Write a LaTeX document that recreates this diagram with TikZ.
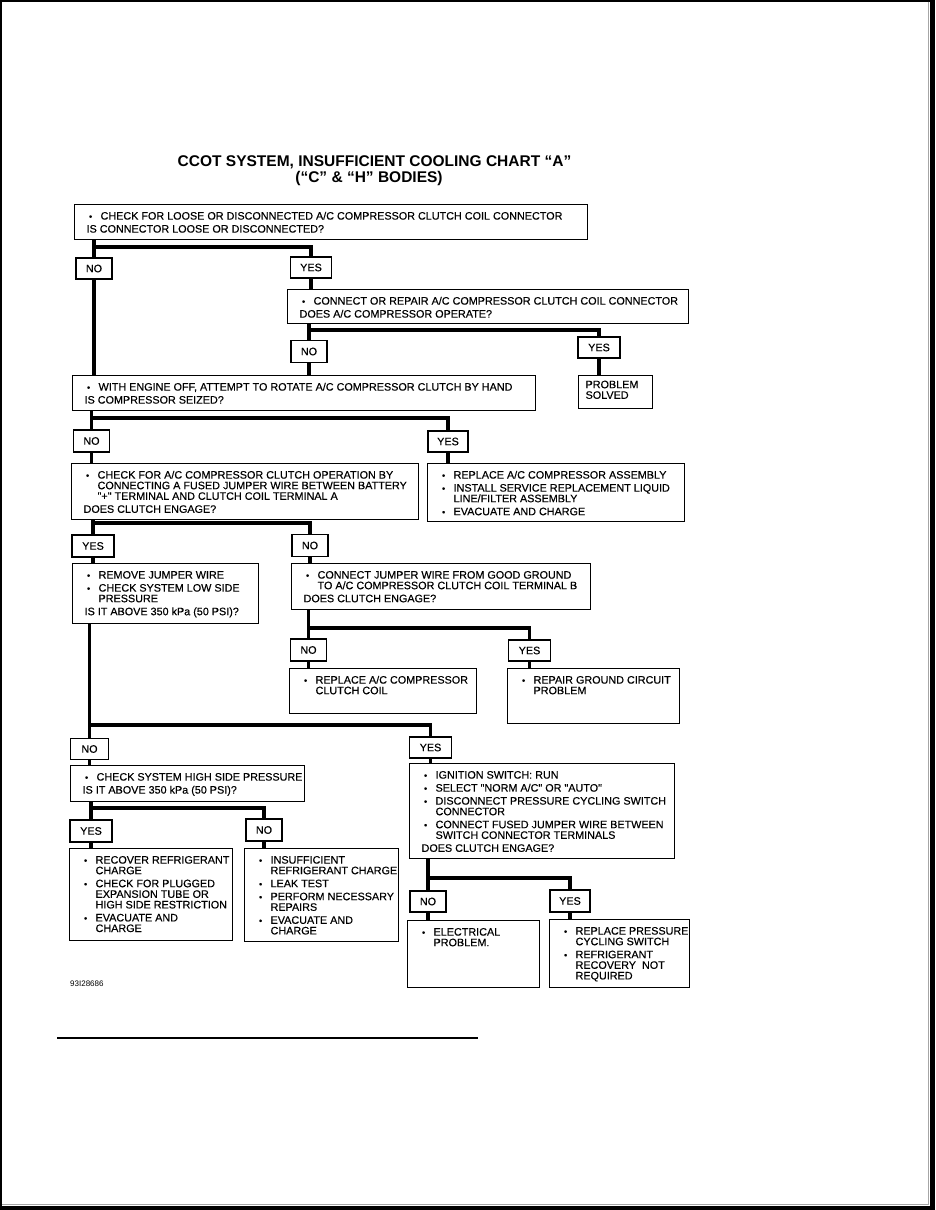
\documentclass[tikz,border=0pt]{standalone}
\usepackage{fontspec}
\setmainfont{Liberation Sans}
\newfontfamily\chartfont{Liberation Sans}[FakeBold=0.35]
\newcommand\bxt[3]{\parbox[c][#2pt][t]{#1pt}{\chartfont\fontsize{10.8}{10.6}\selectfont\setlength\parskip{2.4pt}\vspace*{4.6pt}#3\par}}
\newcommand\itm[1]{\par\noindent\hangindent=26pt\hangafter=1\rule{0pt}{8pt}\hspace*{16pt}\makebox[0pt]{\fontsize{9}{9}\selectfont\textbullet}\hspace*{10pt}#1}
\newcommand\qst[1]{\par\noindent\rule{0pt}{8pt}\hspace*{12pt}\mbox{#1}}
\newcommand\nl{\newline}
\begin{document}
\begin{tikzpicture}[x=1pt,y=-1pt,
  box/.style={draw,line width=1.2pt,inner sep=0pt,anchor=north west},
  lab/.style={draw,line width=1.2pt,inner sep=0pt,minimum height=21pt,font=\chartfont\fontsize{10.8}{12}\selectfont},
  conn/.style={line width=3.3pt},
  ttl/.style={font=\fontsize{15.5}{16}\selectfont\bfseries,inner sep=0pt,anchor=base}]
\useasboundingbox (0,0) rectangle (935,1210);
\fill[white] (0,0) rectangle (935,1210);
% page frame
\fill[black] (0,0) rectangle (1.5,1210);
\fill[black] (0,0) rectangle (935,1.5);
\fill[black] (930,0) rectangle (935,1210);
\fill[black] (0,1206) rectangle (935,1210);
\draw[black!35,line width=0.8pt] (928.6,1.5) -- (928.6,1204.6) -- (1.5,1204.6);

% title
\node[ttl] (t1) at (374.5,166) {CCOT SYSTEM, INSUFFICIENT COOLING CHART “A”};
\node[ttl] (t2) at (369,182) {(“C” \& “H” BODIES)};

% boxes
\node[box] (b1) at (74,204) {\bxt{513}{35}{\itm{\mbox{CHECK FOR LOOSE OR DISCONNECTED A/C COMPRESSOR CLUTCH COIL CONNECTOR}}\qst{IS CONNECTOR LOOSE OR DISCONNECTED?}}};
\node[box] (b2) at (287,289) {\bxt{401}{34}{\itm{\mbox{CONNECT OR REPAIR A/C COMPRESSOR CLUTCH COIL CONNECTOR}}\qst{DOES A/C COMPRESSOR OPERATE?}}};
\node[box] (ps) at (578,375) {\parbox[c][33pt][t]{74pt}{\chartfont\fontsize{10.8}{10.6}\selectfont\vspace*{4.6pt}\rule{0pt}{8pt}\hspace*{7pt}PROBLEM\newline\hspace*{7pt}SOLVED}};
\node[box] (b3) at (72,375) {\bxt{463}{35}{\itm{\mbox{WITH ENGINE OFF, ATTEMPT TO ROTATE A/C COMPRESSOR CLUTCH BY HAND}}\qst{IS COMPRESSOR SEIZED?}}};
\node[box] (b4) at (71,463) {\bxt{347}{56}{\itm{\mbox{CHECK FOR A/C COMPRESSOR CLUTCH OPERATION BY}\nl\mbox{CONNECTING A FUSED JUMPER WIRE BETWEEN BATTERY}\nl\mbox{"+" TERMINAL AND CLUTCH COIL TERMINAL A}}\qst{DOES CLUTCH ENGAGE?}}};
\node[box] (b5) at (427,463) {\bxt{257}{58}{\itm{\mbox{REPLACE A/C COMPRESSOR ASSEMBLY}}\itm{\mbox{INSTALL SERVICE REPLACEMENT LIQUID}\nl\mbox{LINE/FILTER ASSEMBLY}}\itm{\mbox{EVACUATE AND CHARGE}}}};
\node[box] (b6) at (72,563) {\bxt{186}{60}{\itm{\mbox{REMOVE JUMPER WIRE}}\itm{\mbox{CHECK SYSTEM LOW SIDE}\nl\mbox{PRESSURE}}\qst{IS IT ABOVE 350 kPa (50 PSI)?}}};
\node[box] (b7) at (291,563) {\bxt{299}{46}{\itm{\mbox{CONNECT JUMPER WIRE FROM GOOD GROUND}\nl\mbox{TO A/C COMPRESSOR CLUTCH COIL TERMINAL B}}\qst{DOES CLUTCH ENGAGE?}}};
\node[box] (b8) at (289,668) {\bxt{187}{45}{\itm{\mbox{REPLACE A/C COMPRESSOR}\nl\mbox{CLUTCH COIL}}}};
\node[box] (b9) at (507,668) {\bxt{172}{55}{\itm{\mbox{REPAIR GROUND CIRCUIT}\nl\mbox{PROBLEM}}}};
\node[box] (b10) at (70,765) {\bxt{234}{36}{\itm{\mbox{CHECK SYSTEM HIGH SIDE PRESSURE}}\qst{IS IT ABOVE 350 kPa (50 PSI)?}}};
\node[box] (b11) at (409,763) {\bxt{265}{95}{\itm{\mbox{IGNITION SWITCH: RUN}}\itm{\mbox{SELECT "NORM A/C" OR "AUTO"}}\itm{\mbox{DISCONNECT PRESSURE CYCLING SWITCH}\nl\mbox{CONNECTOR}}\itm{\mbox{CONNECT FUSED JUMPER WIRE BETWEEN}\nl\mbox{SWITCH CONNECTOR TERMINALS}}\qst{DOES CLUTCH ENGAGE?}}};
\node[box] (b12) at (69,848) {\bxt{163}{92}{\itm{\mbox{RECOVER REFRIGERANT}\nl\mbox{CHARGE}}\itm{\mbox{CHECK FOR PLUGGED}\nl\mbox{EXPANSION TUBE OR}\nl\mbox{HIGH SIDE RESTRICTION}}\itm{\mbox{EVACUATE AND}\nl\mbox{CHARGE}}}};
\node[box] (b13) at (244,848) {\bxt{154}{93}{\itm{\mbox{INSUFFICIENT}\nl\mbox{REFRIGERANT CHARGE}}\itm{\mbox{LEAK TEST}}\itm{\mbox{PERFORM NECESSARY}\nl\mbox{REPAIRS}}\itm{\mbox{EVACUATE AND}\nl\mbox{CHARGE}}}};
\node[box] (b14) at (407,920) {\bxt{132}{67}{\itm{\mbox{ELECTRICAL}\nl\mbox{PROBLEM.}}}};
\node[box] (b15) at (549,919) {\bxt{140}{68}{\itm{\mbox{REPLACE PRESSURE}\nl\mbox{CYCLING SWITCH}}\itm{\mbox{REFRIGERANT}\nl\mbox{RECOVERY\ \ NOT}\nl\mbox{REQUIRED}}}};

% labels
\node[lab,minimum width=36pt] (no1) at (94,268.5) {NO};
\node[lab,minimum width=41pt] (yes1) at (311,267.5) {YES};
\node[lab,minimum width=36pt,minimum height=22pt] (no2) at (309,351.5) {NO};
\node[lab,minimum width=42pt] (yes2) at (599,347.5) {YES};
\node[lab,minimum width=36pt,minimum height=22pt] (no3) at (91.5,441) {NO};
\node[lab,minimum width=40pt] (yes3) at (448,441.5) {YES};
\node[lab,minimum width=42pt,minimum height=22pt] (yes4) at (93,546) {YES};
\node[lab,minimum width=36pt,minimum height=22pt] (no4) at (310,545.5) {NO};
\node[lab,minimum width=36pt,minimum height=22pt] (no7) at (308.5,650) {NO};
\node[lab,minimum width=42pt] (yes7) at (529.5,650.5) {YES};
\node[lab,minimum width=38pt] (noM) at (89.5,749) {NO};
\node[lab,minimum width=42pt] (yesM) at (430.5,747.5) {YES};
\node[lab,minimum width=42pt,minimum height=22pt] (yes10) at (91,831) {YES};
\node[lab,minimum width=36pt,minimum height=22pt] (no10) at (264,830) {NO};
\node[lab,minimum width=36pt] (no11) at (428,901.5) {NO};
\node[lab,minimum width=40pt,minimum height=22pt] (yes11) at (570,901) {YES};

% junction levels
\coordinate (j1) at (0,247);
\coordinate (j2) at (0,330);
\coordinate (j3) at (0,418);
\coordinate (j4) at (0,523);
\coordinate (j7) at (0,628);
\coordinate (jM) at (0,725);
\coordinate (j10) at (0,808);
\coordinate (j11) at (0,878);

% connectors
\draw[conn] (b1.south -| no1) -- (no1.north);
\draw[conn] (no1 |- j1) -| (yes1.north);
\draw[conn] (no1.south) -- (no1 |- b3.north);
\draw[conn] (yes1.south) -- (yes1 |- b2.north);

\draw[conn] (b2.south -| no2) -- (no2.north);
\draw[conn] (no2 |- j2) -| (yes2.north);
\draw[conn] (no2.south) -- (no2 |- b3.north);
\draw[conn] (yes2.south) -- (yes2 |- ps.north);

\draw[conn] (b3.south -| no3) -- (no3.north);
\draw[conn] (no3 |- j3) -| (yes3.north);
\draw[conn] (no3.south) -- (no3 |- b4.north);
\draw[conn] (yes3.south) -- (yes3 |- b5.north);

\draw[conn] (b4.south -| yes4) -- (yes4.north);
\draw[conn] (yes4 |- j4) -| (no4.north);
\draw[conn] (yes4.south) -- (yes4 |- b6.north);
\draw[conn] (no4.south) -- (no4 |- b7.north);

\draw[conn] (b7.south -| no7) -- (no7.north);
\draw[conn] (no7 |- j7) -| (yes7.north);
\draw[conn] (no7.south) -- (no7 |- b8.north);
\draw[conn] (yes7.south) -- (yes7 |- b9.north);

\draw[conn] (b6.south -| noM) -- (noM.north);
\draw[conn] (noM |- jM) -| (yesM.north);
\draw[conn] (noM.south) -- (noM |- b10.north);
\draw[conn] (yesM.south) -- (yesM |- b11.north);

\draw[conn] (b10.south -| yes10) -- (yes10.north);
\draw[conn] (yes10 |- j10) -| (no10.north);
\draw[conn] (yes10.south) -- (yes10 |- b12.north);
\draw[conn] (no10.south) -- (no10 |- b13.north);

\draw[conn] (b11.south -| no11) -- (no11.north);
\draw[conn] (no11 |- j11) -| (yes11.north);
\draw[conn] (no11.south) -- (no11 |- b14.north);
\draw[conn] (yes11.south) -- (yes11 |- b15.north);

% figure code and rule
\node[anchor=base west,inner sep=0pt,font=\fontsize{8}{8}\selectfont] (code) at (70,986.5) {93I28686};
\draw[line width=1.2pt] (57,1038) -- (478,1038);
\end{tikzpicture}
\end{document}
